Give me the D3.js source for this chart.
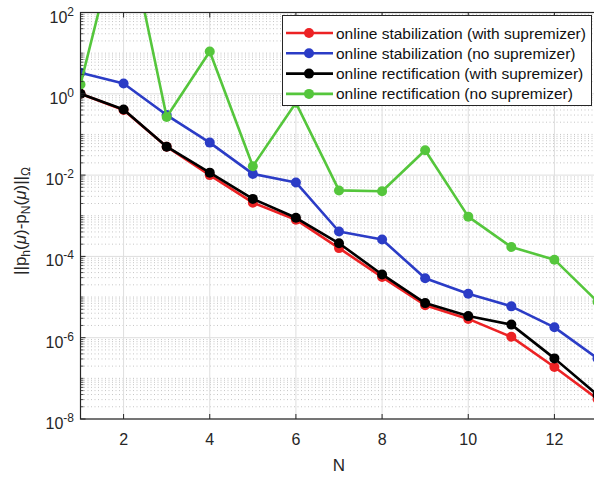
<!DOCTYPE html>
<html>
<head>
<meta charset="utf-8">
<script src="https://cdn.jsdelivr.net/npm/d3@7"></script>
<style>
  body { margin: 0; background: #fff; }
  svg { display: block; font-family: "Liberation Sans", Arial, sans-serif; }
</style>
</head>
<body>
<svg id="chart" width="594" height="477"></svg>
<script>
// N values (x axis)
const nValues = [1, 2, 3, 4, 5, 6, 7, 8, 9, 10, 11, 12, 13];

// error values
const stabWithSup = [1.0, 0.40, 0.050, 0.010, 0.0021, 8.0e-4, 1.6e-4, 3.1e-5, 6.3e-6, 2.9e-6, 1.05e-6, 1.9e-7, 3.1e-8];
const stabNoSup = [3.3, 1.8, 0.30, 0.063, 0.0107, 0.0066, 4.1e-4, 2.6e-4, 2.9e-5, 1.2e-5, 5.9e-6, 1.8e-6, 3.1e-7];
const rectWithSup = [1.0, 0.41, 0.050, 0.0115, 0.0026, 8.9e-4, 2.1e-4, 3.6e-5, 7.1e-6, 3.4e-6, 2.1e-6, 3.1e-7, 3.9e-8];
const rectNoSup = [1.7, 3e4, 0.27, 11, 0.0165, 0.6, 0.0042, 0.0040, 0.041, 9.5e-4, 1.7e-4, 8.3e-5, 7.7e-6];

const seriesNames = [
  'online stabilization (with supremizer)',
  'online stabilization (no supremizer)',
  'online rectification (with supremizer)',
  'online rectification (no supremizer)'
];
const seriesColors = ['#ec2224', '#2b3cc6', '#000000', '#55c63c'];

const xTicks = [2, 4, 6, 8, 10, 12];
const yTickExps = [2, 0, -2, -4, -6, -8];

const svg = d3.select('#chart');
const margin = { top: 12.5, left: 80.5 };
const plotW = 517, plotH = 406.5;

const x = d3.scaleLinear().domain([1, 13]).range([margin.left, margin.left + plotW]);
const y = d3.scaleLog().domain([1e-8, 1e2]).range([margin.top + plotH, margin.top]);

svg.append('defs').append('clipPath').attr('id', 'plot-clip')
  .append('rect')
  .attr('x', margin.left).attr('y', margin.top)
  .attr('width', plotW).attr('height', plotH);

// grid
const grid = svg.append('g');
const minorVals = [];
for (let e = -8; e < 2; e++) {
  for (let m = 1; m <= 9; m++) {
    const v = m * Math.pow(10, e);
    if (m === 1 && e % 2 === 0) continue;
    minorVals.push(v);
  }
}
grid.selectAll('.minor').data(minorVals).enter().append('line')
  .attr('x1', margin.left).attr('x2', margin.left + plotW)
  .attr('y1', d => y(d)).attr('y2', d => y(d))
  .attr('stroke', '#b8b8b8').attr('stroke-width', 0.8)
  .attr('stroke-dasharray', '1,2.5');
grid.selectAll('.majorY').data(yTickExps.map(e => Math.pow(10, e))).enter().append('line')
  .attr('x1', margin.left).attr('x2', margin.left + plotW)
  .attr('y1', d => y(d)).attr('y2', d => y(d))
  .attr('stroke', '#dedede').attr('stroke-width', 1);
grid.selectAll('.majorX').data(xTicks).enter().append('line')
  .attr('x1', d => x(d)).attr('x2', d => x(d))
  .attr('y1', margin.top).attr('y2', margin.top + plotH)
  .attr('stroke', '#dedede').attr('stroke-width', 1);

// series
const allSeries = [stabWithSup, stabNoSup, rectWithSup, rectNoSup];
const line = d3.line().x((d, i) => x(nValues[i])).y(d => y(d));
const plot = svg.append('g').attr('clip-path', 'url(#plot-clip)');
allSeries.forEach((vals, k) => {
  plot.append('path')
    .datum(vals)
    .attr('d', line)
    .attr('fill', 'none')
    .attr('stroke', seriesColors[k])
    .attr('stroke-width', 2.6)
    .attr('stroke-linejoin', 'round');
  plot.selectAll(null).data(vals).enter().append('circle')
    .attr('cx', (d, i) => x(nValues[i]))
    .attr('cy', d => y(d))
    .attr('r', 5)
    .attr('fill', seriesColors[k]);
});

// axes box and ticks
const axisColor = '#262626';
const axes = svg.append('g').attr('stroke', axisColor);
axes.append('rect')
  .attr('x', margin.left).attr('y', margin.top)
  .attr('width', plotW).attr('height', plotH)
  .attr('fill', 'none').attr('stroke-width', 1.2);
axes.selectAll('.xt').data(xTicks).enter().append('line')
  .attr('x1', d => x(d)).attr('x2', d => x(d))
  .attr('y1', margin.top + plotH).attr('y2', margin.top + plotH - 5);
axes.selectAll('.xtt').data(xTicks).enter().append('line')
  .attr('x1', d => x(d)).attr('x2', d => x(d))
  .attr('y1', margin.top).attr('y2', margin.top + 5);
axes.selectAll('.ymt').data(minorVals).enter().append('line')
  .attr('x1', margin.left).attr('x2', margin.left + 3)
  .attr('y1', d => y(d)).attr('y2', d => y(d)).attr('stroke-width', 0.8);
axes.selectAll('.yt').data(yTickExps).enter().append('line')
  .attr('x1', margin.left).attr('x2', margin.left + 5)
  .attr('y1', d => y(Math.pow(10, d))).attr('y2', d => y(Math.pow(10, d)));

// tick labels
svg.selectAll('.xl').data(xTicks).enter().append('text')
  .attr('x', d => x(d)).attr('y', margin.top + plotH + 26)
  .attr('text-anchor', 'middle').attr('font-size', 16).attr('fill', axisColor)
  .text(d => d);

const yl = svg.selectAll('.yl').data(yTickExps).enter().append('text')
  .attr('x', 74).attr('y', d => y(Math.pow(10, d)) + 10)
  .attr('text-anchor', 'end').attr('font-size', 16).attr('fill', axisColor);
yl.append('tspan').text('10');
yl.append('tspan').attr('dy', -7).attr('font-size', 12).text(d => d);

// axis labels
svg.append('text')
  .attr('x', x(7)).attr('y', 471)
  .attr('text-anchor', 'middle').attr('font-size', 17).attr('fill', axisColor)
  .text('N');

const ylab = svg.append('text')
  .attr('transform', 'translate(26,221) rotate(-90)')
  .attr('text-anchor', 'middle').attr('font-size', 17).attr('fill', axisColor);
ylab.append('tspan').text('||p');
ylab.append('tspan').attr('dy', 4).attr('font-size', 12).text('h');
ylab.append('tspan').attr('dy', -4).text('(');
ylab.append('tspan').attr('font-style', 'italic').text('μ');
ylab.append('tspan').text(')-p');
ylab.append('tspan').attr('dy', 4).attr('font-size', 12).text('N');
ylab.append('tspan').attr('dy', -4).text('(');
ylab.append('tspan').attr('font-style', 'italic').text('μ');
ylab.append('tspan').text(')||');
ylab.append('tspan').attr('dy', 4).attr('font-size', 12).text('Ω');

// legend
const legend = svg.append('g');
legend.append('rect')
  .attr('x', 282.5).attr('y', 15.5).attr('width', 309).attr('height', 90)
  .attr('fill', '#fff').attr('stroke', axisColor).attr('stroke-width', 1);
const items = legend.selectAll('.item').data(seriesNames).enter().append('g')
  .attr('transform', (d, i) => `translate(0,${33 + i * 20.3})`);
items.append('line')
  .attr('x1', 286).attr('x2', 333).attr('y1', 0).attr('y2', 0)
  .attr('stroke', (d, i) => seriesColors[i]).attr('stroke-width', 2.6);
items.append('circle')
  .attr('cx', 309).attr('cy', 0).attr('r', 5)
  .attr('fill', (d, i) => seriesColors[i]);
items.append('text')
  .attr('x', 336).attr('y', 5.5).attr('font-size', 15.5).attr('fill', '#111')
  .text(d => d);
</script>
</body>
</html>
